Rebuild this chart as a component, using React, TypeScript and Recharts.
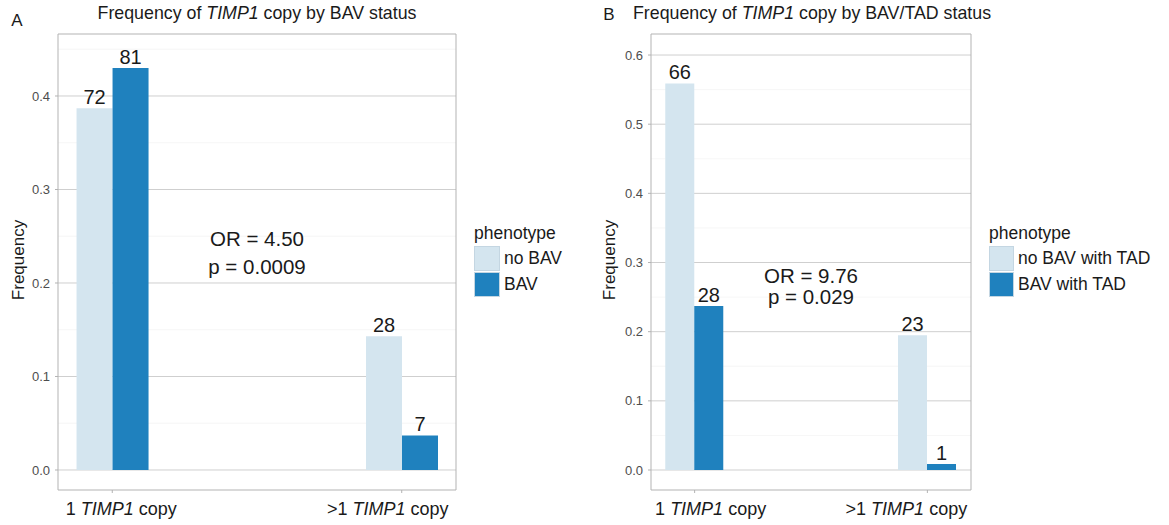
import React from "react"
import {
  BarChart,
  Bar,
  XAxis,
  YAxis,
  CartesianGrid,
  ReferenceArea,
  ReferenceDot,
  LabelList,
} from "recharts"

const FONT = '"Liberation Sans", Arial, Helvetica, sans-serif'
const LIGHT = "#d4e5ef"
const DARK = "#1f81be"
const INK = "#1a1a1a"

// shared x categories
const positions = [1, 2]
const copyPrefix = ["1", ">1"]

// panel A: BAV status
const freqNoBav = [0.387, 0.143]
const freqBav = [0.43, 0.037]
const countNoBav = [72, 28]
const countBav = [81, 7]
const ticksA = [0, 0.1, 0.2, 0.3, 0.4]
const minorA = [0.05, 0.15, 0.25, 0.35, 0.45]
const legendA = ["no BAV", "BAV"]

// panel B: BAV/TAD status
const freqNoBavTad = [0.559, 0.195]
const freqBavTad = [0.237, 0.0087]
const countNoBavTad = [66, 23]
const countBavTad = [28, 1]
const ticksB = [0, 0.1, 0.2, 0.3, 0.4, 0.5, 0.6]
const minorB = [0.05, 0.15, 0.25, 0.35, 0.45, 0.55]
const legendB = ["no BAV with TAD", "BAV with TAD"]

const X_DOMAIN: [number, number] = [0.8125, 2.1875]

const CopyTick = (props: any) => {
  const { x, y, payload, shifts } = props
  const i = positions.indexOf(payload.value)
  return (
    <text x={x + shifts[i]} y={y + 20} textAnchor="middle" fontSize={18} fill={INK} fontFamily={FONT}>
      {copyPrefix[i]}{" "}
      <tspan fontStyle="italic">TIMP1</tspan>
      {" copy"}
    </text>
  )
}

type PanelProps = {
  left: number
  width: number
  plotLeft: number
  plotRight: number
  yDomain: [number, number]
  yTicks: number[]
  minor: number[]
  light: number[]
  dark: number[]
  nLight: number[]
  nDark: number[]
  barSize: number
  shifts: number[]
  or: string
  p: string
  orY: number
  pY: number
}

const Panel = (props: PanelProps) => {
  const rows = positions.map((pos, i) => ({
    pos,
    light: props.light[i],
    dark: props.dark[i],
    nLight: props.nLight[i],
    nDark: props.nDark[i],
  }))
  const barText = { fontSize: 20, fill: INK, fontFamily: FONT }
  const noteText = { fontSize: 20.5, fill: INK, fontFamily: FONT }
  return (
    <div style={{ position: "absolute", left: props.left, top: 0 }}>
      <BarChart
        width={props.width}
        height={525}
        data={rows}
        barGap={0}
        margin={{ top: 34, bottom: 0, left: props.plotLeft - props.left - 50, right: props.left + props.width - props.plotRight }}
      >
        <CartesianGrid vertical={false} stroke="#f0f0f0" strokeWidth={0.6} horizontalValues={props.minor} />
        <CartesianGrid vertical={false} stroke="#cfcfcf" horizontalValues={props.yTicks} />
        <XAxis
          type="number"
          dataKey="pos"
          domain={X_DOMAIN}
          ticks={positions}
          allowDataOverflow
          axisLine={false}
          tickLine={{ stroke: "#b3b3b3" }}
          tickSize={3}
          height={35}
          interval={0}
          tick={(t: any) => <CopyTick {...t} shifts={props.shifts} />}
        />
        <YAxis
          type="number"
          domain={props.yDomain}
          ticks={props.yTicks}
          allowDataOverflow
          width={50}
          axisLine={false}
          tickLine={{ stroke: "#b3b3b3" }}
          tickSize={3}
          tickMargin={5}
          tick={{ fontSize: 13, fill: "#4d4d4d", fontFamily: FONT }}
          tickFormatter={(v: number) => v.toFixed(1)}
        />
        <Bar dataKey="light" fill={LIGHT} barSize={props.barSize} isAnimationActive={false}>
          <LabelList dataKey="nLight" position="top" offset={4} {...barText} />
        </Bar>
        <Bar dataKey="dark" fill={DARK} barSize={props.barSize} isAnimationActive={false}>
          <LabelList dataKey="nDark" position="top" offset={4} {...barText} />
        </Bar>
        <ReferenceArea
          x1={X_DOMAIN[0]}
          x2={X_DOMAIN[1]}
          y1={props.yDomain[0]}
          y2={props.yDomain[1]}
          fill="none"
          fillOpacity={0}
          stroke="#b3b3b3"
          strokeWidth={1}
        />
        <ReferenceDot x={1.5} y={props.orY} r={1} fill="none" stroke="none" label={{ value: props.or, position: "center", ...noteText }} />
        <ReferenceDot x={1.5} y={props.pY} r={1} fill="none" stroke="none" label={{ value: props.p, position: "center", ...noteText }} />
      </BarChart>
    </div>
  )
}

const abs = (left: number, top: number, extra: React.CSSProperties = {}): React.CSSProperties => ({
  position: "absolute",
  left,
  top,
  lineHeight: 1,
  whiteSpace: "nowrap",
  fontFamily: FONT,
  color: INK,
  ...extra,
})

const Legend = ({ left, labels, keyW }: { left: number; labels: string[]; keyW: number }) => (
  <>
    <div style={abs(left, 235, { fontSize: 17.5, transform: "translateY(-55%)" })}>phenotype</div>
    {[LIGHT, DARK].map((c, i) => (
      <div
        key={c}
        style={{ position: "absolute", left, top: 246 + i * 26, width: keyW, height: 25, background: c, boxSizing: "border-box", border: "1px solid #c4d6e2" }}
      />
    ))}
    {labels.map((l, i) => (
      <div key={l} style={abs(left + keyW + 4, 260 + i * 26, { fontSize: 17.5, transform: "translateY(-55%)" })}>
        {l}
      </div>
    ))}
  </>
)

export default function App() {
  return (
    <div style={{ position: "absolute", left: 0, top: 0, width: 1169, height: 525, background: "#fff", overflow: "hidden" }}>
      <Panel
        left={0}
        width={590}
        plotLeft={58}
        plotRight={456}
        yDomain={[-0.0214, 0.4663]}
        yTicks={ticksA}
        minor={minorA}
        light={freqNoBav}
        dark={freqBav}
        nLight={countNoBav}
        nDark={countBav}
        barSize={36}
        shifts={[9, -14]}
        or="OR = 4.50"
        p="p = 0.0009"
        orY={0.247}
        pY={0.217}
      />
      <Panel
        left={590}
        width={579}
        plotLeft={651}
        plotRight={971}
        yDomain={[-0.0289, 0.6304]}
        yTicks={ticksB}
        minor={minorB}
        light={freqNoBavTad}
        dark={freqBavTad}
        nLight={countNoBavTad}
        nDark={countBavTad}
        barSize={29}
        shifts={[16, -21]}
        or="OR = 9.76"
        p="p = 0.029"
        orY={0.2805}
        pY={0.25}
      />

      <div style={abs(17, 21, { fontSize: 17, transform: "translate(-50%,-55%)" })}>A</div>
      <div style={abs(257, 15, { fontSize: 17.8, transform: "translate(-50%,-55%)" })}>
        Frequency of <i>TIMP1</i> copy by BAV status
      </div>
      <div style={abs(609, 15, { fontSize: 17, transform: "translate(-50%,-55%)" })}>B</div>
      <div style={abs(812, 15, { fontSize: 17.8, transform: "translate(-50%,-55%)" })}>
        Frequency of <i>TIMP1</i> copy by BAV/TAD status
      </div>

      <div style={abs(18, 260, { fontSize: 17, transform: "translate(-50%,-50%) rotate(-90deg)" })}>Frequency</div>
      <div style={abs(609, 260, { fontSize: 17, transform: "translate(-50%,-50%) rotate(-90deg)" })}>Frequency</div>

      <Legend left={474} labels={legendA} keyW={26} />
      <Legend left={989} labels={legendB} keyW={25} />
    </div>
  )
}
